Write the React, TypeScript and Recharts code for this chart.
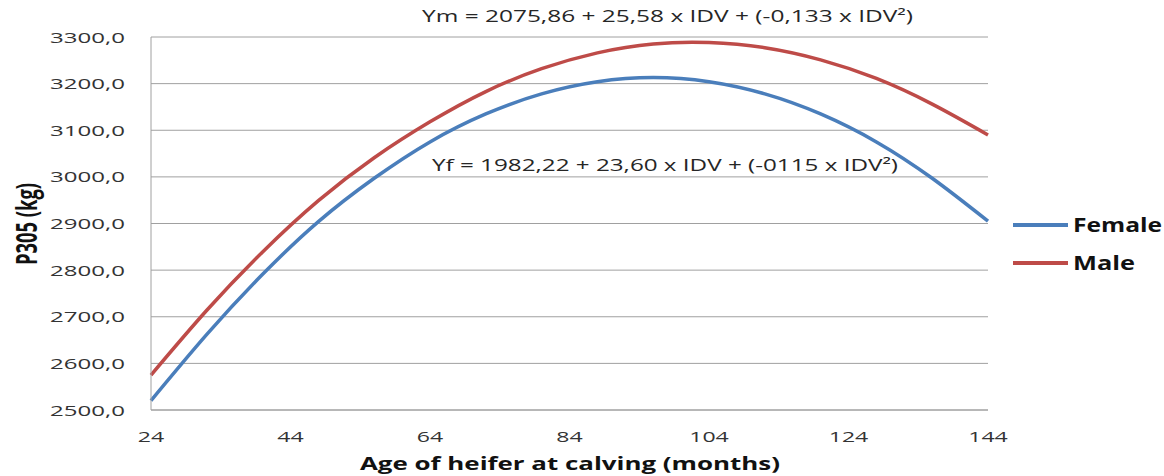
import { LineChart, Line, XAxis, YAxis, CartesianGrid, Legend } from "recharts";

// age at calving (months) and fitted P305 values (kg)
const AGE = [24, 32, 40, 48, 56, 64, 72, 80, 88, 96, 104, 112, 120, 128, 136, 144];
const FEMALE = [2520, 2662, 2791, 2904, 2997, 3075, 3135, 3178, 3204, 3213, 3204, 3178, 3135, 3075, 2997, 2905];
const MALE = [2575, 2714, 2839, 2949, 3041, 3118, 3183, 3232, 3266, 3285, 3288, 3277, 3251, 3211, 3156, 3090];

const X_TICKS = [24, 44, 64, 84, 104, 124, 144];
const Y_TICKS = [2500, 2600, 2700, 2800, 2900, 3000, 3100, 3200, 3300];

const EQ_MALE = "Ym = 2075,86 + 25,58 x IDV + (-0,133 x IDV²)";
const EQ_FEMALE = "Yf = 1982,22 + 23,60 x IDV + (-0115 x IDV²)";

const FONT = "'Open Sans', 'DejaVu Sans', sans-serif";
const BLUE = "#4A7EBB";
const RED = "#BE4B48";
const GRID = "#A0A0A0";

const data = AGE.map((age, i) => ({ age, female: FEMALE[i], male: MALE[i] }));

const fmt = (v: number) => v.toFixed(1).replace(".", ",");

function XTick({ x, payload }: any) {
  const s = String(payload.value);
  return (
    <text x={x} y={442} textAnchor="middle" fontFamily={FONT} fontSize={15} fill="#333"
      textLength={s.length * 13.2} lengthAdjust="spacingAndGlyphs">
      {s}
    </text>
  );
}

function YTick({ y, payload }: any) {
  return (
    <text x={125} y={y + 5.5} textAnchor="end" fontFamily={FONT} fontSize={15} fill="#333"
      textLength={75} lengthAdjust="spacingAndGlyphs">
      {fmt(payload.value)}
    </text>
  );
}

function LegendBox({ payload }: any) {
  const items = payload || [];
  return (
    <svg width={154} height={80}>
      {items.map((p: any, i: number) => {
        const cy = 20 + i * 38;
        return (
          <g key={p.value}>
            <line x1={3} x2={58} y1={cy} y2={cy} stroke={p.color} strokeWidth={4} />
            <text x={63} y={cy + 7} fontFamily={FONT} fontWeight="bold" fontSize={20} fill="#111"
              textLength={p.value === "Female" ? 89 : 62} lengthAdjust="spacingAndGlyphs">
              {p.value}
            </text>
          </g>
        );
      })}
    </svg>
  );
}

export default function App() {
  return (
    <div style={{ position: "absolute", left: 0, top: 0, width: 1164, height: 476, background: "#fff" }}>
      <LineChart width={1164} height={476} data={data} margin={{ top: 37, right: 176, bottom: 0, left: 0 }}>
        <CartesianGrid vertical={false} stroke={GRID} />
        <XAxis type="number" dataKey="age" domain={[24, 144]} ticks={X_TICKS} height={66}
          tickLine={false} axisLine={{ stroke: GRID }} tick={<XTick />}
          label={{
            content: () => (
              <text x={570} y={470} textAnchor="middle" fontFamily={FONT} fontWeight="bold" fontSize={18}
                fill="#111" textLength={420} lengthAdjust="spacingAndGlyphs">
                Age of heifer at calving (months)
              </text>
            ),
          }} />
        <YAxis type="number" domain={[2500, 3300]} ticks={Y_TICKS} width={151}
          tickLine={false} axisLine={{ stroke: GRID }} tick={<YTick />}
          label={{
            content: () => (
              <text transform="translate(37,224) rotate(-90) scale(1,1.55)" textAnchor="middle"
                fontFamily={FONT} fontWeight="bold" fontSize={18} fill="#111"
                textLength={82} lengthAdjust="spacingAndGlyphs">
                P305 (kg)
              </text>
            ),
          }} />
        <Legend layout="vertical" align="center" verticalAlign="middle" content={<LegendBox />}
          wrapperStyle={{ left: 1010, top: 205, width: 154, height: 80 }} />
        <Line type="natural" dataKey="female" name="Female" stroke={BLUE} strokeWidth={3.5} dot={false} isAnimationActive={false} />
        <Line type="natural" dataKey="male" name="Male" stroke={RED} strokeWidth={3.5} dot={false} isAnimationActive={false} />
      </LineChart>
      <svg width={1164} height={476} style={{ position: "absolute", left: 0, top: 0, pointerEvents: "none" }}>
        <text x={422} y={22} fontFamily={FONT} fontSize={16.5} fill="#262626" textLength={491} lengthAdjust="spacingAndGlyphs">
          {EQ_MALE}
        </text>
        <text x={432} y={171} fontFamily={FONT} fontSize={17} fill="#262626" textLength={466} lengthAdjust="spacingAndGlyphs">
          {EQ_FEMALE}
        </text>
      </svg>
    </div>
  );
}
